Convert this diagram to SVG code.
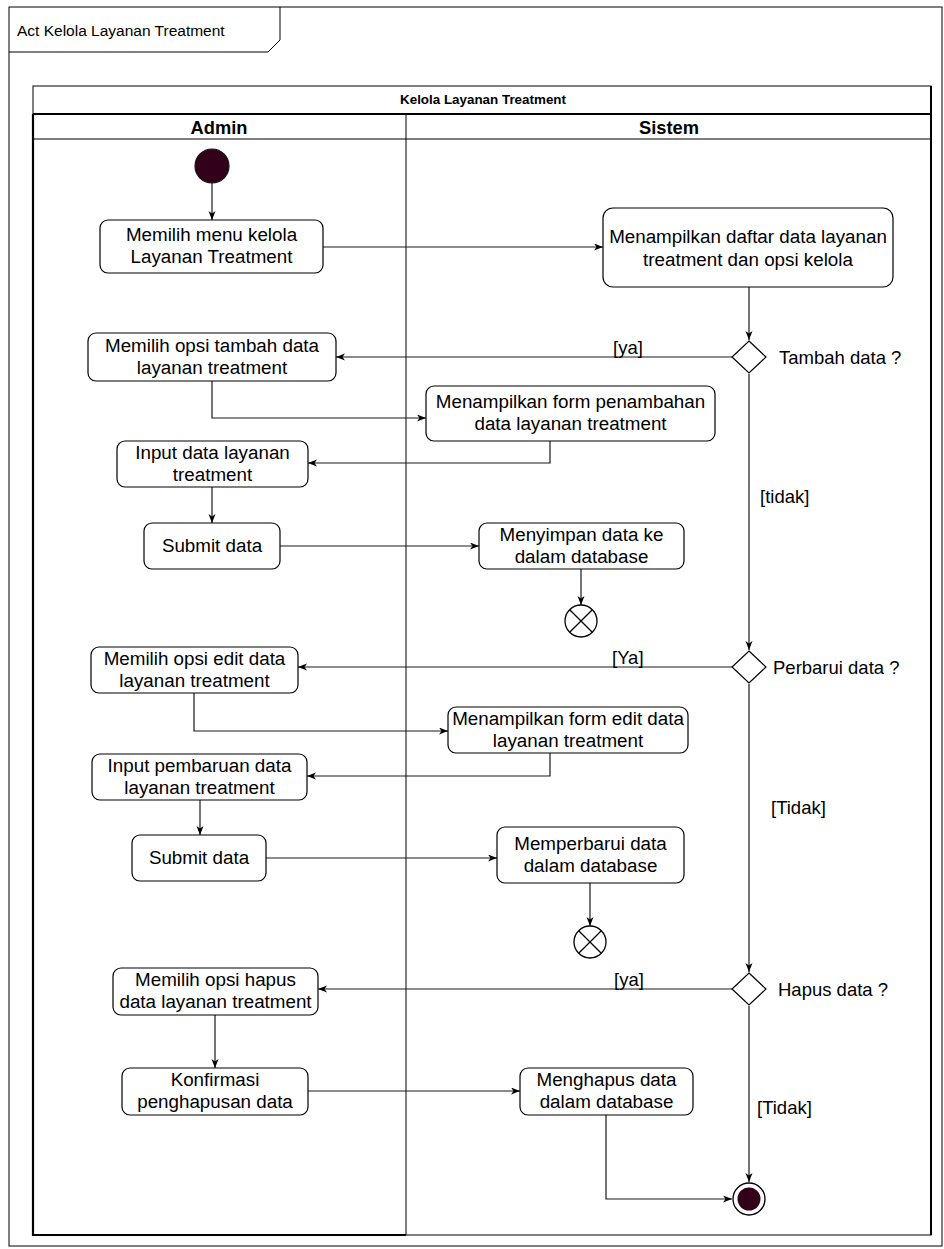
<svg xmlns="http://www.w3.org/2000/svg" width="944" height="1249" viewBox="0 0 944 1249">
  <style>
    text { font-family: "Liberation Sans", Arial, sans-serif; fill: #000; }
    .act { fill: #fff; stroke: #000; stroke-width: 1.2; }
    .lbl { font-size: 18.8px; text-anchor: middle; }
    .side { font-size: 18.5px; }
    .edge { fill: none; stroke: #1a1a1a; stroke-width: 1.2; }
    .dot { fill: #33001a; stroke: #1a1a1a; stroke-width: 1.2; }
    .diamond { fill: #fff; stroke: #000; stroke-width: 1.2; }
    .stop { fill: #fff; stroke: #000; stroke-width: 1.3; }
  </style>
  <defs>
    <marker id="arrow" markerUnits="userSpaceOnUse" markerWidth="10" markerHeight="8" refX="9" refY="3.5" orient="auto">
      <path d="M0,0 L9,3.5 L0,7 L2.5,3.5 Z" fill="#000"/>
    </marker>
  </defs>

  <rect width="944" height="1249" fill="#fff"/>

  <!-- activity frame -->
  <g id="frame">
    <rect x="9" y="7" width="933" height="1239" fill="none" stroke="#000" stroke-width="1"/>
    <path d="M9,52 L268,52 L280,40 L280,7" fill="none" stroke="#000" stroke-width="1"/>
    <text x="17" y="36" font-size="15.5px">Act Kelola Layanan Treatment</text>
  </g>

  <!-- swimlane pool -->
  <g id="pool">
    <rect x="33" y="86" width="898" height="1149" fill="none" stroke="#000" stroke-width="1"/>
    <text x="483" y="104" font-size="13.4px" font-weight="bold" text-anchor="middle">Kelola Layanan Treatment</text>
    <line x1="33" y1="114" x2="931" y2="114" stroke="#000" stroke-width="2.2"/>
    <line x1="33" y1="139" x2="931" y2="139" stroke="#000" stroke-width="1.2"/>
    <line x1="406" y1="114" x2="406" y2="1235" stroke="#000" stroke-width="1"/>
    <path d="M406,1235 L33,1235 L33,114" fill="none" stroke="#000" stroke-width="2.2"/>
    <line x1="931" y1="86" x2="931" y2="1235" stroke="#000" stroke-width="2"/>
    <text x="219" y="134" font-size="18.3px" font-weight="bold" text-anchor="middle">Admin</text>
    <text x="669" y="134" font-size="18.3px" font-weight="bold" text-anchor="middle">Sistem</text>
  </g>

  <!-- connectors -->
  <g id="connectors" class="edge" marker-end="url(#arrow)">
    <path d="M212,183 L212,220"/>
    <path d="M323,247 L603,247"/>
    <path d="M749,287 L749,340"/>
    <path d="M732,357 L336,357"/>
    <path d="M212,381 L212,418 L426,418"/>
    <path d="M550,441 L550,463 L308,463"/>
    <path d="M212,487 L212,523"/>
    <path d="M280,546 L479,546"/>
    <path d="M581,569 L581,605"/>
    <path d="M749,374 L749,650"/>
    <path d="M732,667 L298,667"/>
    <path d="M194,693 L194,731 L448,731"/>
    <path d="M550,753 L550,776 L307,776"/>
    <path d="M200,800 L200,835"/>
    <path d="M266,858 L497,858"/>
    <path d="M590,883 L590,926"/>
    <path d="M749,684 L749,972"/>
    <path d="M732,989 L318,989"/>
    <path d="M215,1015 L215,1068"/>
    <path d="M308,1091 L520,1091"/>
    <path d="M606,1115 L606,1199 L732,1199"/>
    <path d="M749,1006 L749,1182"/>
  </g>

  <!-- guard labels -->
  <g id="guards" class="side">
    <text x="613" y="354">[ya]</text>
    <text x="760" y="503">[tidak]</text>
    <text x="612" y="664">[Ya]</text>
    <text x="771" y="814">[Tidak]</text>
    <text x="614" y="986">[ya]</text>
    <text x="757" y="1114">[Tidak]</text>
  </g>

  <g id="start"><circle class="dot" cx="212" cy="166" r="17"/></g>

  <g id="menuKelola">
    <rect class="act" x="100" y="220" width="223" height="53" rx="8"/>
    <text class="lbl" x="211.5" y="241">Memilih menu kelola</text>
    <text class="lbl" x="211.5" y="263">Layanan Treatment</text>
  </g>

  <g id="tampilDaftar">
    <rect class="act" x="603" y="208" width="290" height="79" rx="10"/>
    <text class="lbl" x="748" y="243">Menampilkan daftar data layanan</text>
    <text class="lbl" x="748" y="266">treatment dan opsi kelola</text>
  </g>

  <g id="decTambah">
    <path class="diamond" d="M749,341 L766,357 L749,373 L732,357 Z"/>
    <text class="side" x="779" y="364">Tambah data ?</text>
  </g>

  <g id="opsiTambah">
    <rect class="act" x="88" y="333" width="248" height="48" rx="8"/>
    <text class="lbl" x="212" y="352">Memilih opsi tambah data</text>
    <text class="lbl" x="212" y="374">layanan treatment</text>
  </g>

  <g id="formTambah">
    <rect class="act" x="426" y="386" width="289" height="55" rx="8"/>
    <text class="lbl" x="570.5" y="408">Menampilkan form penambahan</text>
    <text class="lbl" x="570.5" y="430">data layanan treatment</text>
  </g>

  <g id="inputData">
    <rect class="act" x="117" y="441" width="191" height="46" rx="8"/>
    <text class="lbl" x="212.5" y="459">Input data layanan</text>
    <text class="lbl" x="212.5" y="481">treatment</text>
  </g>

  <g id="submitTambah">
    <rect class="act" x="144" y="523" width="136" height="46" rx="8"/>
    <text class="lbl" x="212" y="552">Submit data</text>
  </g>

  <g id="simpanData">
    <rect class="act" x="479" y="523" width="205" height="46" rx="8"/>
    <text class="lbl" x="581.5" y="541">Menyimpan data ke</text>
    <text class="lbl" x="581.5" y="563">dalam database</text>
  </g>

  <g id="endTambah">
    <circle class="stop" cx="581" cy="621" r="16"/>
    <path d="M569.7,609.7 L592.3,632.3 M592.3,609.7 L569.7,632.3" stroke="#000" stroke-width="1.3"/>
  </g>

  <g id="decPerbarui">
    <path class="diamond" d="M749,651 L766,667 L749,683 L732,667 Z"/>
    <text class="side" x="773" y="674">Perbarui data ?</text>
  </g>

  <g id="opsiEdit">
    <rect class="act" x="91" y="647" width="207" height="46" rx="8"/>
    <text class="lbl" x="194.5" y="665">Memilih opsi edit data</text>
    <text class="lbl" x="194.5" y="687">layanan treatment</text>
  </g>

  <g id="formEdit">
    <rect class="act" x="448" y="707" width="240" height="46" rx="8"/>
    <text class="lbl" x="568" y="725">Menampilkan form edit data</text>
    <text class="lbl" x="568" y="747">layanan treatment</text>
  </g>

  <g id="inputPembaruan">
    <rect class="act" x="92" y="754" width="215" height="46" rx="8"/>
    <text class="lbl" x="199.5" y="772">Input pembaruan data</text>
    <text class="lbl" x="199.5" y="794">layanan treatment</text>
  </g>

  <g id="submitEdit">
    <rect class="act" x="132" y="835" width="134" height="46" rx="8"/>
    <text class="lbl" x="199" y="864">Submit data</text>
  </g>

  <g id="perbaruiData">
    <rect class="act" x="497" y="827" width="187" height="56" rx="8"/>
    <text class="lbl" x="590.5" y="850">Memperbarui data</text>
    <text class="lbl" x="590.5" y="872">dalam database</text>
  </g>

  <g id="endEdit">
    <circle class="stop" cx="590" cy="942" r="16"/>
    <path d="M578.7,930.7 L601.3,953.3 M601.3,930.7 L578.7,953.3" stroke="#000" stroke-width="1.3"/>
  </g>

  <g id="decHapus">
    <path class="diamond" d="M749,973 L766,989 L749,1005 L732,989 Z"/>
    <text class="side" x="778" y="996">Hapus data ?</text>
  </g>

  <g id="opsiHapus">
    <rect class="act" x="113" y="968" width="205" height="47" rx="8"/>
    <text class="lbl" x="215.5" y="986">Memilih opsi hapus</text>
    <text class="lbl" x="215.5" y="1008">data layanan treatment</text>
  </g>

  <g id="konfirmasi">
    <rect class="act" x="122" y="1068" width="186" height="47" rx="8"/>
    <text class="lbl" x="215" y="1086">Konfirmasi</text>
    <text class="lbl" x="215" y="1108">penghapusan data</text>
  </g>

  <g id="hapusData">
    <rect class="act" x="520" y="1068" width="173" height="47" rx="8"/>
    <text class="lbl" x="606.5" y="1086">Menghapus data</text>
    <text class="lbl" x="606.5" y="1108">dalam database</text>
  </g>

  <g id="final">
    <circle class="stop" cx="749" cy="1199" r="16"/>
    <circle cx="749" cy="1199" r="11.5" fill="#33001a"/>
  </g>
</svg>
